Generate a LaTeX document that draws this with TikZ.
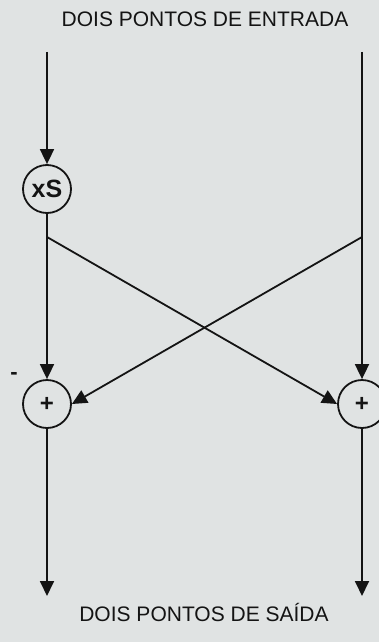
\documentclass[tikz,border=0pt]{standalone}
\usepackage{fontspec}
\setmainfont{Liberation Sans}
\usetikzlibrary{positioning, arrows.meta}
\definecolor{scangray}{RGB}{224,227,227}
\definecolor{inkblack}{RGB}{20,20,20}
\tikzset{
  opnode/.style = {circle, draw=inkblack, line width=1.8pt, inner sep=0pt,
                   minimum size=48pt, text=inkblack,
                   font=\bfseries\fontsize{24}{24}\selectfont},
  flowline/.style = {line width=1.8pt, draw=inkblack},
  flowarrow/.style = {flowline, -{Triangle[length=15pt, width=14pt]}},
  caption/.style = {font=\fontsize{21}{25}\selectfont, text=inkblack}
}

\begin{document}
\begin{tikzpicture}[x=1pt, y=-1pt]
\fill[scangray] (0,0) rectangle (379,642);
\useasboundingbox (0,0) rectangle (379,642);
\clip (0,0) rectangle (379,642);

\node[caption] (top) at (205,19) {DOIS PONTOS DE ENTRADA};
\coordinate (inl) at (47,52);
\coordinate (inr) at (362,52);
\node[opnode, font=\bfseries\fontsize{25}{25}\selectfont] (xs) at (47,189) {xS};
\coordinate (tapl) at (47,237);
\coordinate (tapr) at (362,237);
\node[opnode] (addl) at (47,404) {+};
\node[opnode] (addr) at (362,404) {+};
\node[text=inkblack, font=\bfseries\fontsize{22}{22}\selectfont] (neg) at (14,376) {-};
\coordinate (outl) at (47,596);
\coordinate (outr) at (362,596);
\node[caption] (bot) at (204,612) {DOIS PONTOS DE SAÍDA};

\draw[flowarrow] (inl) -- (xs);
\draw[flowline] (xs) -- (tapl);
\draw[flowarrow] (tapl) -- (addl);
\draw[flowarrow] (tapl) -- (addr.west);
\draw[flowarrow] (addl) -- (outl);
\draw[flowline] (inr) -- (tapr);
\draw[flowarrow] (tapr) -- (addr);
\draw[flowarrow] (tapr) -- (addl.east);
\draw[flowarrow] (addr) -- (outr);
\end{tikzpicture}
\end{document}
